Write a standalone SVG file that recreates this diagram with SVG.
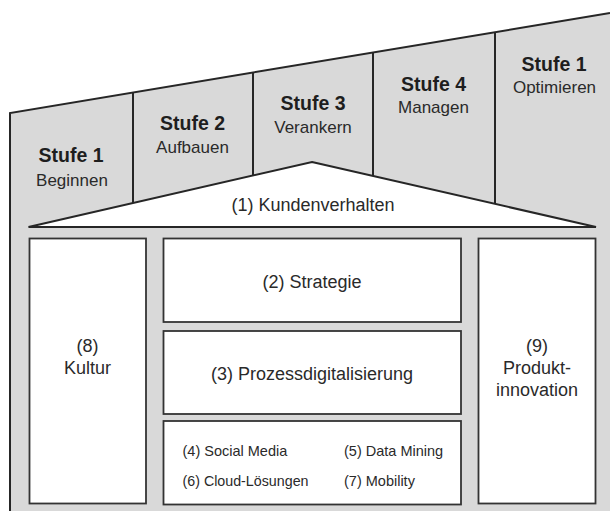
<svg xmlns="http://www.w3.org/2000/svg" width="610" height="511" viewBox="0 0 610 511">
  <style>
    .box { fill: #ffffff; stroke: #333333; stroke-width: 1.8; }
    .line { fill: none; stroke: #262626; stroke-width: 2; }
    .b { font-family: "Liberation Sans", Arial, sans-serif; font-weight: bold; font-size: 19.5px; fill: #1e1e1e; text-anchor: middle; }
    .r { font-family: "Liberation Sans", Arial, sans-serif; font-size: 17px; fill: #2a2a2a; text-anchor: middle; }
    .m { font-family: "Liberation Sans", Arial, sans-serif; font-size: 18px; fill: #2a2a2a; text-anchor: middle; }
    .s { font-family: "Liberation Sans", Arial, sans-serif; font-size: 14.5px; fill: #2a2a2a; }
  </style>
  <rect width="610" height="511" fill="#ffffff"/>
  <g id="house">
    <path d="M10,113 L610,13 L610,511 L10,511 Z" fill="#d9d9d9"/>
    <polyline class="line" points="10,511 10,113 610,13"/>
  </g>
  <g id="connectors">
    <line class="line" x1="133" y1="92.5" x2="133" y2="203"/>
    <line class="line" x1="253" y1="72.5" x2="253" y2="175.5"/>
    <line class="line" x1="373" y1="52.5" x2="373" y2="176"/>
    <line class="line" x1="495" y1="32.2" x2="495" y2="204"/>
  </g>
  <g id="stufe1-beginnen">
    <text class="b" x="71" y="162">Stufe 1</text>
    <text class="r" x="72" y="186">Beginnen</text>
  </g>
  <g id="stufe2-aufbauen">
    <text class="b" x="192.5" y="130">Stufe 2</text>
    <text class="r" x="192.5" y="153">Aufbauen</text>
  </g>
  <g id="stufe3-verankern">
    <text class="b" x="313" y="110">Stufe 3</text>
    <text class="r" x="313" y="133">Verankern</text>
  </g>
  <g id="stufe4-managen">
    <text class="b" x="433.5" y="90.5">Stufe 4</text>
    <text class="r" x="433.5" y="113">Managen</text>
  </g>
  <g id="stufe1-optimieren">
    <text class="b" x="554" y="71">Stufe 1</text>
    <text class="r" x="554.5" y="93">Optimieren</text>
  </g>
  <g id="kundenverhalten">
    <polygon points="312,162 596,227 28.5,227" fill="#ffffff" stroke="#262626" stroke-width="2" stroke-linejoin="miter"/>
    <text class="m" x="313" y="211" font-size="17.5">(1) Kundenverhalten</text>
  </g>
  <g id="kultur">
    <rect class="box" x="29.5" y="238.5" width="116.5" height="265"/>
    <text class="m" x="87.5" y="352">(8)</text>
    <text class="m" x="87.5" y="374">Kultur</text>
  </g>
  <g id="strategie">
    <rect class="box" x="163.5" y="238.5" width="297.5" height="83.5"/>
    <text class="m" x="312" y="288">(2) Strategie</text>
  </g>
  <g id="prozessdigitalisierung">
    <rect class="box" x="163.5" y="331" width="297.5" height="83"/>
    <text class="m" x="312" y="380">(3) Prozessdigitalisierung</text>
  </g>
  <g id="technologien">
    <rect class="box" x="163.5" y="421" width="297.5" height="83.5"/>
    <text class="s" x="182.5" y="455.5">(4) Social Media</text>
    <text class="s" x="344" y="455.5">(5) Data Mining</text>
    <text class="s" x="182.5" y="486" textLength="126" lengthAdjust="spacingAndGlyphs">(6) Cloud-Lösungen</text>
    <text class="s" x="344" y="486">(7) Mobility</text>
  </g>
  <g id="produktinnovation">
    <rect class="box" x="478.5" y="238.5" width="117" height="265"/>
    <text class="m" x="537" y="352">(9)</text>
    <text class="m" x="537" y="374">Produkt-</text>
    <text class="m" x="537" y="395.5">innovation</text>
  </g>
</svg>
